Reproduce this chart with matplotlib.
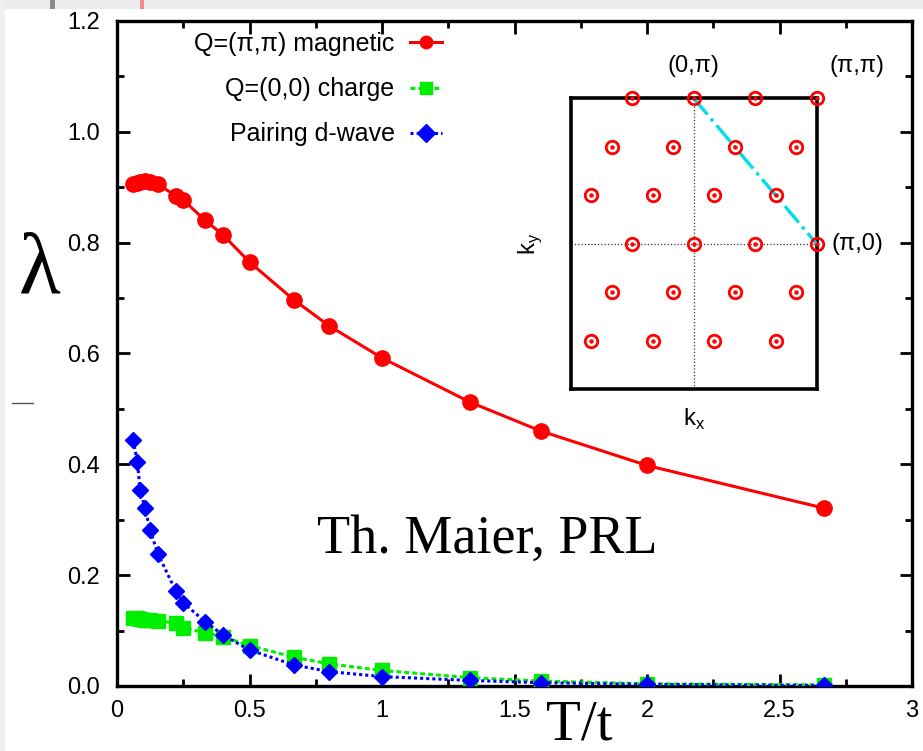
import matplotlib
matplotlib.use("Agg")
import matplotlib.pyplot as plt
from matplotlib.patches import Rectangle
from matplotlib.lines import Line2D
from matplotlib.ticker import MultipleLocator
import numpy as np

plt.rcParams['font.family'] = ['Liberation Sans', 'DejaVu Sans']

# temperatures T/t
T = [0.06, 0.077, 0.087, 0.106, 0.125, 0.154, 0.222, 0.25, 0.333, 0.40,
     0.50, 0.667, 0.80, 1.00, 1.333, 1.60, 2.00, 2.667]

# leading eigenvalues
lam_magnetic = [0.905, 0.908, 0.910, 0.912, 0.909, 0.905, 0.885, 0.877, 0.840, 0.814,
                0.765, 0.697, 0.650, 0.592, 0.512, 0.460, 0.398, 0.321]
lam_charge = [0.122, 0.122, 0.121, 0.120, 0.119, 0.118, 0.113, 0.105, 0.096, 0.089,
              0.073, 0.052, 0.040, 0.028, 0.015, 0.009, 0.004, 0.002]
lam_dwave = [0.444, 0.405, 0.354, 0.321, 0.281, 0.239, 0.171, 0.150, 0.116, 0.092,
             0.065, 0.038, 0.026, 0.017, 0.010, 0.006, 0.003, 0.001]

labels = ["Q=(\u03c0,\u03c0) magnetic", "Q=(0,0) charge", "Pairing d-wave"]

# cluster momenta, in units of pi
kx_pts = [-0.5, 0.0, 0.5, 1.0,
          -0.667, -0.167, 0.333, 0.833,
          -0.833, -0.333, 0.167, 0.667,
          -0.5, 0.0, 0.5, 1.0,
          -0.667, -0.167, 0.333, 0.833,
          -0.833, -0.333, 0.167, 0.667]
ky_pts = [1.0] * 4 + [0.667] * 4 + [0.333] * 4 + [0.0] * 4 + [-0.333] * 4 + [-0.667] * 4

xticks = [0, 0.5, 1, 1.5, 2, 2.5, 3]
xticklabels = ["0", "0.5", "1", "1.5", "2", "2.5", "3"]
yticks = [0.0, 0.2, 0.4, 0.6, 0.8, 1.0, 1.2]
yticklabels = ["0.0", "0.2", "0.4", "0.6", "0.8", "1.0", "1.2"]

W, H = 923, 751
fig = plt.figure(figsize=(W / 100, H / 100), dpi=100)

# slide background around the figure
fig.patches.append(Rectangle((0, 1 - 9 / H), 1, 9 / H, transform=fig.transFigure,
                             facecolor='#ececec', edgecolor='none', zorder=0))
fig.patches.append(Rectangle((0, 0), 5 / W, 1, transform=fig.transFigure,
                             facecolor='#f0f0f0', edgecolor='none', zorder=0))
fig.patches.append(Rectangle((50 / W, 1 - 9 / H), 5 / W, 9 / H, transform=fig.transFigure,
                             facecolor='#8a8a8a', edgecolor='none', zorder=0))
fig.patches.append(Rectangle((140 / W, 1 - 9 / H), 4 / W, 9 / H, transform=fig.transFigure,
                             facecolor='#f08a8a', edgecolor='none', zorder=0))

ax = fig.add_axes([117 / W, (H - 686) / H, (912 - 117) / W, (686 - 21) / H])

ax.plot(T, lam_magnetic, '-o', color='#ff0000', lw=2.2, ms=11, label=labels[0], zorder=4)
ax.plot(T, lam_charge, color='#00ee00', ls=(0, (1.6, 1.0)), lw=2.2, marker='s', ms=10,
        label=labels[1], zorder=3)
ax.plot(T, lam_dwave, color='#0000ff', ls=(0, (1.0, 1.0)), lw=2.2, marker='D', ms=8.5,
        label=labels[2], zorder=5)

ax.set_xlim(0, 3)
ax.set_ylim(0, 1.2)
ax.set_xticks(xticks)
ax.set_xticklabels(xticklabels)
ax.set_yticks(yticks)
ax.set_yticklabels(yticklabels)
ax.xaxis.set_minor_locator(MultipleLocator(0.25))
ax.yaxis.set_minor_locator(MultipleLocator(0.1))
ax.tick_params(which='both', direction='in', top=True, right=True, width=2)
ax.tick_params(which='major', length=9, labelsize=17)
ax.tick_params(which='minor', length=5)
ax.tick_params(axis='y', pad=12)
ax.tick_params(axis='x', pad=10)
for s in ax.spines.values():
    s.set_linewidth(2.4)

leg = ax.legend(loc='upper right', bbox_to_anchor=((442 - 117) / 795, (686 - 32) / 665),
                frameon=False, markerfirst=False, fontsize=18, handlelength=1.3,
                handletextpad=0.6, labelspacing=0.85, borderpad=0, borderaxespad=0,
                numpoints=1)
for h in leg.legend_handles:
    h.set_markersize(9)

fig.text(487 / W, 1 - 553 / H, "Th. Maier, PRL", fontsize=39,
         family='Liberation Serif', ha='center', va='baseline')
fig.text(40 / W, 1 - 272 / H, "\u03bb", fontsize=62, family='Liberation Serif',
         ha='center', va='center')
fig.text(579 / W, 1 - 739 / H, "T/t", fontsize=41, family='Liberation Serif',
         ha='center', va='baseline')
fig.add_artist(Line2D([12 / W, 33 / W], [1 - 403 / H, 1 - 403 / H], color='#555555', lw=1))

# inset: momentum grid of the cluster
ins = fig.add_axes([570.7 / W, (H - 389.3) / H, 246 / W, 291 / H])
ins.set_xlim(-1, 1)
ins.set_ylim(-1, 1)
ins.set_xticks([])
ins.set_yticks([])
for s in ins.spines.values():
    s.set_linewidth(2.6)
ins.plot([-1, 1], [0, 0], ls=':', color='#333333', lw=0.9)
ins.plot([0, 0], [-1, 1], ls=':', color='#333333', lw=0.9)
ins.plot([0, 1], [1, 0], color='#00dced', ls='-.', lw=2.4, zorder=3)
ins.plot(kx_pts, ky_pts, 'o', mfc='none', mec='#ff0000', mew=2.0, ms=9,
         clip_on=False, zorder=4)
ins.plot(kx_pts, ky_pts, 'o', color='#ff0000', ms=2.2, clip_on=False, zorder=4)
ins.text(0, 1.22, "(0,\u03c0)", fontsize=17, ha='center', va='center')
ins.text(1.33, 1.22, "(\u03c0,\u03c0)", fontsize=17, ha='center', va='center')
ins.text(1.33, 0, "(\u03c0,0)", fontsize=17, ha='center', va='center')
ins.text(-1.33, 0, "k$_\\mathregular{y}$", fontsize=17, ha='center', va='center', rotation=90)
ins.text(0, -1.21, "k$_\\mathregular{x}$", fontsize=17, ha='center', va='center')

fig.savefig("out.png", dpi=100)
